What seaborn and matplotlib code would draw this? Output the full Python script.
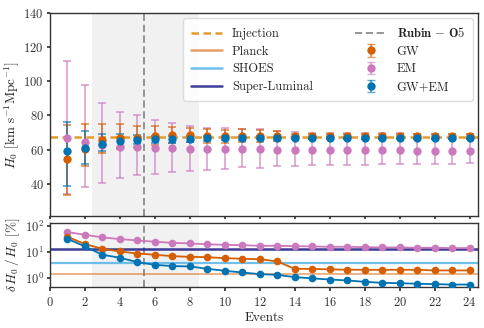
import numpy as np
import pandas as pd
import matplotlib
matplotlib.use("Agg")
import matplotlib.pyplot as plt
import seaborn as sns
from matplotlib.lines import Line2D
from matplotlib.ticker import FixedLocator, NullLocator, FuncFormatter

# ---------------- data ----------------
events = list(range(1, 25))
injection_h0 = 67.7
rubin_o5_event = 5.4
rubin_span = (2.4, 8.5)
planck_pct = 1.35
shoes_pct = 3.78
superluminal_pct = 13.0

gw_h0 = [54.6, 60.3, 65.5, 67.0, 67.0, 68.2, 68.6, 68.6, 68.0, 67.8, 68.2, 68.0,
         67.8, 67.8, 67.8, 67.8, 67.8, 67.8, 67.8, 67.8, 67.8, 67.8, 67.8, 67.8]
gw_lo = [33.6, 50.5, 58.3, 60.4, 61.3, 63.0, 64.0, 64.3, 63.9, 64.0, 64.5, 64.5,
         64.9, 66.4, 66.4, 66.4, 66.4, 66.4, 66.5, 66.5, 66.5, 66.5, 66.5, 66.5]
gw_hi = [74.4, 74.8, 74.8, 74.8, 74.1, 73.7, 73.3, 72.9, 72.3, 71.7, 71.9, 71.6,
         70.7, 69.3, 69.2, 69.2, 69.2, 69.2, 69.2, 69.1, 69.1, 69.1, 69.1, 69.1]

em_h0 = [67.0, 64.7, 62.8, 61.8, 61.6, 61.2, 60.8, 60.2, 60.2, 60.3, 60.3, 60.2,
         59.9, 59.9, 59.8, 59.8, 59.7, 59.7, 59.6, 59.6, 59.5, 59.5, 59.4, 59.4]
em_lo = [34.0, 38.1, 40.8, 43.3, 45.1, 46.0, 47.2, 47.6, 48.4, 49.0, 50.1, 49.5,
         50.6, 50.7, 50.9, 51.0, 51.2, 51.3, 51.5, 51.6, 51.7, 51.8, 51.9, 52.0]
em_hi = [112.0, 97.8, 87.1, 82.2, 80.3, 77.2, 75.4, 74.1, 72.9, 72.5, 72.3, 72.0,
         70.9, 70.4, 70.0, 70.0, 69.8, 69.7, 69.6, 69.5, 69.4, 69.3, 69.2, 69.1]

gwem_h0 = [59.3, 60.8, 63.5, 65.1, 65.9, 66.1, 66.1, 66.3, 66.7, 67.0, 67.0, 67.0,
           66.7, 66.7, 66.7, 66.7, 66.7, 66.7, 66.7, 66.7, 66.7, 66.7, 66.7, 66.7]
gwem_lo = [38.8, 51.9, 59.3, 61.2, 63.3, 64.0, 64.2, 64.5, 65.2, 65.8, 65.9, 66.1,
           65.8, 66.0, 66.1, 66.1, 66.2, 66.2, 66.3, 66.3, 66.3, 66.3, 66.3, 66.3]
gwem_hi = [76.4, 71.1, 69.2, 68.9, 68.5, 68.2, 68.0, 68.1, 68.2, 68.2, 68.1, 67.9,
           67.6, 67.4, 67.3, 67.3, 67.2, 67.2, 67.1, 67.1, 67.1, 67.1, 67.1, 67.1]

gw_pct = [37.8, 19.8, 13.0, 10.3, 8.6, 7.7, 6.8, 6.4, 6.2, 5.7, 5.4, 5.2,
          4.26, 2.22, 2.2, 2.1, 2.05, 2.03, 2.03, 2.03, 2.03, 1.92, 1.92, 1.92]
em_pct = [57.3, 45.1, 35.7, 30.8, 27.4, 24.3, 22.2, 21.0, 19.3, 18.6, 18.0, 17.0,
          17.0, 16.5, 16.0, 15.6, 15.6, 15.1, 14.7, 14.7, 14.3, 14.3, 13.9, 13.9]
gwem_pct = [31.6, 16.0, 7.7, 5.9, 4.0, 3.16, 2.82, 2.74, 2.22, 1.86, 1.6, 1.38,
            1.30, 1.06, 0.95, 0.86, 0.79, 0.70, 0.64, 0.62, 0.59, 0.57, 0.55, 0.55]

xticks = list(range(0, 25, 2))
h0_ticks = [40, 60, 80, 100, 120, 140]

# ---------------- style ----------------
sns.set_theme(style="ticks")
plt.rcParams["font.family"] = ["cmr10"]
plt.rcParams["mathtext.fontset"] = "cm"
plt.rcParams["axes.formatter.use_mathtext"] = True
plt.rcParams["axes.unicode_minus"] = False
plt.rcParams["axes.edgecolor"] = "0.2"
plt.rcParams["xtick.color"] = "0.2"
plt.rcParams["ytick.color"] = "0.2"
plt.rcParams["text.color"] = "0.15"

c_gw = "#d55e00"
c_em = "#cc78bc"
c_gwem = "#0173b2"
c_inj = "#e39b2a"
c_planck = "#d55e00"
c_shoes = "#56b4e9"
c_sl = "#1c1a86"

fig = plt.figure(figsize=(4.84, 3.28), dpi=100)
ax1 = fig.add_axes([0.1033, 0.340, 0.8849, 0.621])
ax2 = fig.add_axes([0.1033, 0.124, 0.8849, 0.195])

fs = 9

for ax in (ax1, ax2):
    ax.axvspan(*rubin_span, color="0.945", lw=0, zorder=0)
    ax.axvline(rubin_o5_event, color="0.55", ls=(0, (4, 2)), lw=1.3, zorder=1)

# top panel
inj = ax1.axhline(injection_h0, color=c_inj, ls=(0, (3, 1.8)), lw=1.8, zorder=2)

def ebar(ax, h0, lo, hi, c, label, z):
    h0 = np.asarray(h0); lo = np.asarray(lo); hi = np.asarray(hi)
    rgba = matplotlib.colors.to_rgba(c, 0.6)
    return ax.errorbar(events, h0, yerr=[h0 - lo, hi - h0], fmt="none",
                       ecolor=rgba, elinewidth=1.4, capsize=3.2, capthick=1.4,
                       zorder=z, label=label)

e_em = ebar(ax1, em_h0, em_lo, em_hi, c_em, "EM", 3)
e_gw = ebar(ax1, gw_h0, gw_lo, gw_hi, c_gw, "GW", 4)
e_gwem = ebar(ax1, gwem_h0, gwem_lo, gwem_hi, c_gwem, "GW+EM", 5)

df_top = pd.DataFrame({"Events": events * 3,
                       "H0": gw_h0 + em_h0 + gwem_h0,
                       "series": ["GW"] * 24 + ["EM"] * 24 + ["GW+EM"] * 24})
for name, c, z in [("GW", c_gw, 6), ("EM", c_em, 6), ("GW+EM", c_gwem, 7)]:
    sub = df_top[df_top.series == name]
    sns.scatterplot(data=sub, x="Events", y="H0", color=c, s=36, linewidth=0,
                    ax=ax1, zorder=z, legend=False)

ax1.set_xlim(0, 24.5)
ax1.set_ylim(21, 140)
ax1.xaxis.set_major_locator(FixedLocator(xticks))
ax1.set_xticklabels([])
ax1.yaxis.set_major_locator(FixedLocator(h0_ticks))
ax1.set_xlabel("")
ax1.set_ylabel(r"$H_0$ [km s$^{-1}$Mpc$^{-1}$]", fontsize=fs + 0.5, labelpad=2)
ax1.tick_params(labelsize=fs, length=2.5, pad=2)

# bottom panel
df_bot = pd.DataFrame({"Events": events * 3,
                       "pct": gw_pct + em_pct + gwem_pct,
                       "series": ["GW"] * 24 + ["EM"] * 24 + ["GW+EM"] * 24})
for name, c in [("EM", c_em), ("GW", c_gw), ("GW+EM", c_gwem)]:
    sub = df_bot[df_bot.series == name]
    sns.lineplot(data=sub, x="Events", y="pct", color=c, marker="o", markersize=5.5,
                 markeredgewidth=0, lw=1.3, ax=ax2, zorder=4, legend=False)

l_planck = ax2.axhline(planck_pct, color=c_planck, alpha=0.6, lw=1.1, zorder=2)
l_shoes = ax2.axhline(shoes_pct, color=c_shoes, alpha=0.85, lw=1.6, zorder=2)
l_sl = ax2.axhline(superluminal_pct, color=c_sl, alpha=0.85, lw=1.8, zorder=2)

ax2.set_yscale("log")
ax2.set_xlim(0, 24.5)
ax2.set_ylim(0.43, 124)
ax2.xaxis.set_major_locator(FixedLocator(xticks))
ax2.yaxis.set_major_locator(FixedLocator([1, 10, 100]))
ax2.yaxis.set_minor_locator(NullLocator())
ax2.yaxis.set_major_formatter(FuncFormatter(lambda v, p: r"$10^{%d}$" % round(np.log10(v))))
ax2.set_xlabel("Events", fontsize=fs + 0.5, labelpad=2)
ax2.set_ylabel(r"$\delta\, H_0\,/\,H_0$ [%]", fontsize=fs + 0.5, labelpad=2)
ax2.tick_params(labelsize=fs, length=2.5, pad=2)
ax2.tick_params(axis="x", length=3, pad=3)

fig.align_ylabels([ax1, ax2])

for ax in (ax1, ax2):
    for s in ax.spines.values():
        s.set_linewidth(1.0)

# legend
h_inj = Line2D([], [], color=c_inj, ls=(0, (3, 1.8)), lw=1.8)
h_planck = Line2D([], [], color=c_planck, alpha=0.6, lw=1.8)
h_shoes = Line2D([], [], color=c_shoes, alpha=0.85, lw=1.8)
h_sl = Line2D([], [], color=c_sl, alpha=0.85, lw=1.8)
h_rubin = Line2D([], [], color="0.55", ls=(0, (4, 2)), lw=1.3)

def leg_handle(c):
    return ax1.errorbar([np.nan], [np.nan], yerr=[1], fmt="o", color=c, ms=5,
                        ecolor=matplotlib.colors.to_rgba(c, 0.6), capsize=3.2)

handles = [h_inj, h_planck, h_shoes, h_sl, h_rubin,
           leg_handle(c_gw), leg_handle(c_em), leg_handle(c_gwem)]
labels = ["Injection", "Planck", "SHOES", "Super-Luminal",
          r"$\mathbf{Rubin\,-\,O5}$", "GW", "EM", "GW+EM"]
leg = ax1.legend(handles, labels, ncol=2, loc="upper right", fontsize=fs,
                 frameon=True, framealpha=0.85, edgecolor="0.85",
                 handlelength=2.5, columnspacing=3.4, borderpad=0.6,
                 labelspacing=0.45, borderaxespad=0.45)
leg.set_zorder(10)

fig.savefig("out.png", dpi=100)
